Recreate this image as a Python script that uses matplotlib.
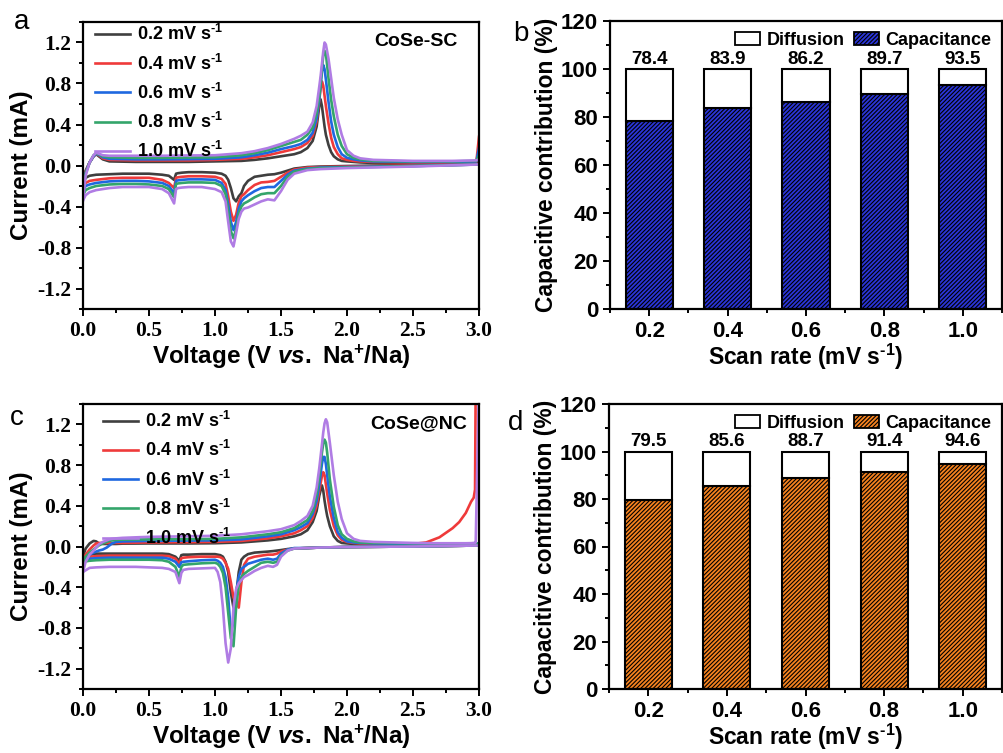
import matplotlib
matplotlib.use("Agg")
import matplotlib.pyplot as plt
from matplotlib.patches import Patch
from matplotlib.ticker import MultipleLocator, FormatStrFormatter

plt.rcParams["axes.unicode_minus"] = False
plt.rcParams["mathtext.fontset"] = "custom"
plt.rcParams["mathtext.rm"] = "Liberation Sans:bold"
plt.rcParams["mathtext.bf"] = "Liberation Sans:bold"
plt.rcParams["mathtext.it"] = "Liberation Sans:italic:bold"
plt.rcParams["hatch.linewidth"] = 0.8

# ---------------- data ----------------
scan_rates = [0.2, 0.4, 0.6, 0.8, 1.0]
rate_labels = ["0.2", "0.4", "0.6", "0.8", "1.0"]
cv_colors = ["#3f3f3f", "#ef3a3a", "#1f68e0", "#34a56b", "#b07ce4"]

# CoSe-SC, cathodic sweep (3.0 V -> 0 V)
sc_cath_v = [3.0, 2.5, 2.0, 1.8, 1.7, 1.6, 1.55, 1.5, 1.45, 1.4, 1.35, 1.3, 1.25, 1.22, 1.2,
             1.18, 1.16, 1.14, 1.12, 1.1, 1.08, 1.05, 1.0, 0.9, 0.8, 0.75, 0.72, 0.705,
             0.69, 0.65, 0.6, 0.5, 0.4, 0.3, 0.2, 0.1, 0.05, 0.02, 0.0]
sc_cath_02 = [0.015, 0.005, -0.005, -0.01, -0.015, -0.03, -0.05, -0.07, -0.085, -0.09, -0.1,
              -0.11, -0.15, -0.2, -0.27, -0.3, -0.35, -0.32, -0.22, -0.14, -0.1, -0.08, -0.07,
              -0.065, -0.065, -0.07, -0.075, -0.08, -0.14, -0.1, -0.09, -0.08, -0.08, -0.08,
              -0.085, -0.09, -0.1, -0.12, -0.16]
sc_cath_04 = [0.01, 0.0, -0.01, -0.015, -0.02, -0.04, -0.07, -0.11, -0.15, -0.16, -0.165,
              -0.19, -0.24, -0.28, -0.3, -0.36, -0.48, -0.54, -0.45, -0.3, -0.18, -0.13, -0.11,
              -0.105, -0.105, -0.11, -0.115, -0.12, -0.22, -0.17, -0.14, -0.12, -0.12, -0.12,
              -0.125, -0.14, -0.15, -0.17, -0.21]
sc_cath_06 = [0.01, -0.005, -0.015, -0.02, -0.03, -0.05, -0.09, -0.15, -0.21, -0.21, -0.22,
              -0.25, -0.29, -0.32, -0.35, -0.42, -0.55, -0.63, -0.55, -0.38, -0.24, -0.17, -0.14,
              -0.135, -0.135, -0.14, -0.145, -0.15, -0.27, -0.2, -0.17, -0.155, -0.15, -0.15,
              -0.155, -0.17, -0.185, -0.2, -0.25]
sc_cath_08 = [0.01, -0.005, -0.02, -0.025, -0.035, -0.06, -0.11, -0.2, -0.27, -0.27, -0.28,
              -0.31, -0.35, -0.37, -0.4, -0.47, -0.62, -0.71, -0.64, -0.45, -0.28, -0.2, -0.17,
              -0.165, -0.165, -0.17, -0.175, -0.18, -0.31, -0.23, -0.2, -0.185, -0.18, -0.18,
              -0.185, -0.2, -0.22, -0.24, -0.29]
sc_cath_10 = [0.01, -0.01, -0.025, -0.035, -0.045, -0.08, -0.14, -0.25, -0.34, -0.33, -0.35,
              -0.38, -0.41, -0.42, -0.45, -0.52, -0.66, -0.79, -0.74, -0.55, -0.35, -0.26, -0.23,
              -0.21, -0.21, -0.215, -0.22, -0.23, -0.37, -0.27, -0.23, -0.21, -0.21, -0.21,
              -0.22, -0.24, -0.26, -0.29, -0.34]

# CoSe-SC, anodic sweep (0 V -> 3.0 V)
sc_anod_v = [0.0, 0.02, 0.05, 0.08, 0.1, 0.12, 0.15, 0.2, 0.4, 0.6, 0.8, 1.0, 1.2, 1.3, 1.4,
             1.5, 1.6, 1.65, 1.7, 1.74, 1.77, 1.79, 1.8, 1.81, 1.82, 1.83, 1.84, 1.86, 1.88,
             1.9, 1.93, 1.96, 2.0, 2.05, 2.1, 2.2, 2.5, 2.8, 2.98, 3.0]
sc_anod_02 = [-0.16, -0.05, 0.03, 0.09, 0.11, 0.09, 0.06, 0.04, 0.035, 0.035, 0.035, 0.04,
              0.045, 0.055, 0.07, 0.09, 0.11, 0.13, 0.17, 0.24, 0.38, 0.58, 0.645, 0.58, 0.48,
              0.38, 0.3, 0.2, 0.13, 0.09, 0.06, 0.045, 0.04, 0.035, 0.03, 0.025, 0.02, 0.02,
              0.025, 0.06]
sc_anod_04 = [-0.21, -0.06, 0.03, 0.09, 0.115, 0.1, 0.07, 0.055, 0.05, 0.05, 0.05, 0.055,
              0.065, 0.08, 0.1, 0.13, 0.16, 0.18, 0.22, 0.29, 0.43, 0.64, 0.75, 0.82, 0.78,
              0.68, 0.58, 0.41, 0.27, 0.18, 0.11, 0.07, 0.055, 0.045, 0.04, 0.035, 0.03, 0.03,
              0.035, 0.28]
sc_anod_06 = [-0.25, -0.07, 0.03, 0.09, 0.115, 0.105, 0.08, 0.065, 0.06, 0.06, 0.062, 0.065,
              0.08, 0.1, 0.125, 0.16, 0.19, 0.21, 0.25, 0.32, 0.46, 0.65, 0.78, 0.92, 0.98,
              0.94, 0.84, 0.62, 0.43, 0.3, 0.18, 0.11, 0.075, 0.06, 0.05, 0.04, 0.035, 0.035,
              0.04, 0.17]
sc_anod_08 = [-0.29, -0.08, 0.03, 0.1, 0.12, 0.11, 0.09, 0.08, 0.075, 0.075, 0.078, 0.08,
              0.1, 0.12, 0.15, 0.19, 0.23, 0.25, 0.3, 0.37, 0.51, 0.68, 0.8, 0.94, 1.07,
              1.12, 1.09, 0.85, 0.64, 0.48, 0.3, 0.19, 0.11, 0.075, 0.06, 0.045, 0.04, 0.04,
              0.045, 0.1]
sc_anod_10 = [-0.34, -0.1, 0.03, 0.1, 0.125, 0.115, 0.1, 0.095, 0.095, 0.095, 0.098, 0.1,
              0.12, 0.14, 0.17, 0.21, 0.26, 0.29, 0.33, 0.42, 0.58, 0.77, 0.87, 0.99, 1.11,
              1.2, 1.18, 1.04, 0.85, 0.66, 0.45, 0.3, 0.15, 0.095, 0.07, 0.055, 0.045, 0.045,
              0.05, 0.06]

# CoSe@NC, cathodic sweep (3.0 V -> 0 V)
nc_cath_v = [3.0, 2.5, 2.0, 1.8, 1.7, 1.6, 1.55, 1.5, 1.47, 1.44, 1.4, 1.35, 1.3, 1.25, 1.22,
             1.2, 1.18, 1.16, 1.14, 1.12, 1.1, 1.08, 1.06, 1.04, 1.02, 1.0, 0.9, 0.8, 0.76,
             0.745, 0.73, 0.7, 0.65, 0.6, 0.5, 0.4, 0.3, 0.2, 0.1, 0.05, 0.0]
nc_cath_02 = [0.01, 0.0, -0.005, -0.01, -0.015, -0.02, -0.025, -0.035, -0.04, -0.045, -0.05,
              -0.055, -0.06, -0.075, -0.1, -0.13, -0.25, -0.48, -0.6, -0.45, -0.25, -0.15,
              -0.1, -0.085, -0.08, -0.075, -0.075, -0.08, -0.08, -0.085, -0.14, -0.1, -0.075,
              -0.07, -0.07, -0.07, -0.07, -0.07, -0.07, -0.08, -0.1]
nc_cath_04 = [0.01, 0.0, -0.005, -0.01, -0.015, -0.02, -0.03, -0.05, -0.07, -0.08, -0.08,
              -0.09, -0.1, -0.12, -0.18, -0.35, -0.6, -0.55, -0.5, -0.35, -0.22, -0.16, -0.12,
              -0.105, -0.1, -0.1, -0.1, -0.105, -0.11, -0.115, -0.17, -0.12, -0.095, -0.09,
              -0.09, -0.09, -0.09, -0.09, -0.095, -0.1, -0.12]
nc_cath_06 = [0.01, 0.0, -0.005, -0.01, -0.015, -0.015, -0.03, -0.07, -0.12, -0.13, -0.12,
              -0.13, -0.15, -0.17, -0.2, -0.22, -0.3, -0.45, -0.75, -0.84, -0.5, -0.3, -0.2,
              -0.16, -0.14, -0.13, -0.135, -0.145, -0.15, -0.155, -0.2, -0.15, -0.12, -0.11,
              -0.11, -0.11, -0.11, -0.11, -0.115, -0.12, -0.14]
nc_cath_08 = [0.01, 0.0, -0.005, -0.01, -0.015, -0.02, -0.04, -0.09, -0.15, -0.16, -0.15,
              -0.16, -0.2, -0.24, -0.27, -0.3, -0.38, -0.6, -0.98, -0.9, -0.65, -0.4, -0.26,
              -0.2, -0.17, -0.16, -0.165, -0.175, -0.18, -0.2, -0.3, -0.2, -0.15, -0.135,
              -0.13, -0.13, -0.13, -0.13, -0.135, -0.14, -0.15]
nc_cath_10 = [0.01, 0.0, -0.005, -0.01, -0.015, -0.02, -0.04, -0.1, -0.18, -0.2, -0.19,
              -0.21, -0.24, -0.28, -0.3, -0.33, -0.36, -0.42, -0.6, -1.0, -1.14, -0.95, -0.6,
              -0.35, -0.25, -0.21, -0.215, -0.22, -0.23, -0.26, -0.36, -0.25, -0.22, -0.21,
              -0.205, -0.2, -0.2, -0.2, -0.205, -0.21, -0.25]

# CoSe@NC, anodic sweep (0 V -> 3.0 V)
nc_anod_v = [0.0, 0.02, 0.05, 0.08, 0.1, 0.12, 0.15, 0.18, 0.2, 0.22, 0.25, 0.3, 0.5, 0.8,
             1.0, 1.2, 1.4, 1.5, 1.6, 1.65, 1.7, 1.74, 1.77, 1.79, 1.81, 1.82, 1.83, 1.84,
             1.85, 1.87, 1.9, 1.93, 1.96, 2.0, 2.05, 2.1, 2.2, 2.5, 2.6, 2.7, 2.8, 2.85, 2.9,
             2.94, 2.96, 2.97, 2.975, 3.0]
nc_anod_02 = [-0.1, -0.02, 0.03, 0.055, 0.05, 0.03, 0.025, 0.025, 0.025, 0.025, 0.025, 0.028,
              0.03, 0.03, 0.032, 0.04, 0.06, 0.075, 0.1, 0.12, 0.16, 0.24, 0.35, 0.5, 0.6,
              0.55, 0.45, 0.37, 0.3, 0.2, 0.1, 0.055, 0.035, 0.03, 0.025, 0.022, 0.02, 0.015,
              0.015, 0.015, 0.015, 0.015, 0.015, 0.015, 0.015, 0.015, 0.015, 0.02]
nc_anod_04 = [-0.12, -0.08, -0.03, 0.01, 0.03, 0.035, 0.035, 0.035, 0.035, 0.035, 0.035,
              0.035, 0.04, 0.042, 0.045, 0.055, 0.08, 0.1, 0.13, 0.16, 0.2, 0.28, 0.4, 0.55,
              0.69, 0.73, 0.7, 0.61, 0.52, 0.36, 0.2, 0.11, 0.065, 0.045, 0.035, 0.03, 0.025,
              0.025, 0.04, 0.09, 0.18, 0.24, 0.33, 0.44, 0.48, 0.56, 1.6, 1.6]
nc_anod_06 = [-0.14, -0.11, -0.08, -0.06, -0.05, -0.04, -0.03, -0.01, 0.01, 0.03, 0.045,
              0.05, 0.055, 0.058, 0.06, 0.07, 0.1, 0.12, 0.16, 0.19, 0.23, 0.32, 0.45, 0.61,
              0.81, 0.88, 0.88, 0.81, 0.7, 0.49, 0.28, 0.14, 0.085, 0.05, 0.04, 0.035, 0.03,
              0.025, 0.025, 0.025, 0.025, 0.025, 0.025, 0.025, 0.025, 0.025, 0.025, 0.03]
nc_anod_08 = [-0.15, -0.1, -0.06, -0.03, -0.01, 0.01, 0.03, 0.045, 0.055, 0.06, 0.065, 0.068,
              0.07, 0.072, 0.075, 0.09, 0.12, 0.14, 0.18, 0.22, 0.26, 0.35, 0.51, 0.69, 0.92,
              1.01, 1.05, 1.02, 0.92, 0.66, 0.39, 0.21, 0.12, 0.075, 0.05, 0.04, 0.035, 0.03,
              0.03, 0.03, 0.03, 0.03, 0.03, 0.03, 0.03, 0.03, 0.03, 0.03]
nc_anod_10 = [-0.25, -0.15, -0.08, -0.04, -0.01, 0.02, 0.045, 0.06, 0.07, 0.075, 0.08, 0.085,
              0.095, 0.1, 0.105, 0.12, 0.15, 0.17, 0.21, 0.25, 0.3, 0.4, 0.58, 0.77, 1.0,
              1.12, 1.21, 1.25, 1.22, 1.02, 0.7, 0.44, 0.27, 0.13, 0.075, 0.055, 0.045, 0.035,
              0.033, 0.032, 0.032, 0.032, 0.032, 0.033, 0.035, 0.035, 0.04, 1.6]

# capacitive share (%) at each scan rate
cap_sc = [78.4, 83.9, 86.2, 89.7, 93.5]
cap_nc = [79.5, 85.6, 88.7, 91.4, 94.6]

# ---------------- styling helpers ----------------
SANS = "Liberation Sans"
SERIF = "Liberation Serif"
SUP = r"$^{\text{-1}}$"


def style_box(ax):
    for s in ax.spines.values():
        s.set_linewidth(1.6)
    ax.tick_params(which="both", direction="out", top=False, right=False, width=1.4)
    ax.tick_params(which="major", length=5)
    ax.tick_params(which="minor", length=3)


def cv_panel(ax, cath_v, cath_sets, anod_v, anod_sets, name, name_x, leg_anchor):
    handles = []
    for lab, col, ic, ia in zip(rate_labels, cv_colors, cath_sets, anod_sets):
        ax.plot(cath_v, ic, color=col, lw=1.9, solid_joinstyle="round")
        h, = ax.plot(anod_v, ia, color=col, lw=1.9, solid_joinstyle="round",
                     label=lab + " mV s" + SUP)
        handles.append(h)
    ax.set_xlim(0, 3.0)
    ax.set_ylim(-1.4, 1.4)
    ax.xaxis.set_major_locator(MultipleLocator(0.5))
    ax.xaxis.set_minor_locator(MultipleLocator(0.25))
    ax.yaxis.set_major_locator(MultipleLocator(0.4))
    ax.yaxis.set_minor_locator(MultipleLocator(0.2))
    ax.xaxis.set_major_formatter(FormatStrFormatter("%.1f"))
    ax.yaxis.set_major_formatter(FormatStrFormatter("%.1f"))
    for t in ax.get_xticklabels() + ax.get_yticklabels():
        t.set_fontfamily(SERIF)
        t.set_fontweight("bold")
        t.set_fontsize(15.5)
    style_box(ax)
    ax.set_xlabel("Voltage (V " + r"$\mathit{vs.}$" + " Na$^{+}$/Na)",
                  fontfamily=SANS, fontweight="bold", fontsize=17.5, labelpad=1.5)
    ax.set_ylabel("Current (mA)", fontfamily=SANS, fontweight="bold", fontsize=17.5,
                  labelpad=3)
    ax.text(name_x, 0.932, name, transform=ax.transAxes, ha="right", va="center",
            fontfamily=SANS, fontweight="bold", fontsize=14)
    ax.legend(handles=handles, loc="upper left", bbox_to_anchor=leg_anchor,
              frameon=False, handlelength=1.95, handletextpad=0.4, labelspacing=0.5,
              borderaxespad=0, prop={"family": SANS, "weight": "bold", "size": 13})


def bar_panel(ax, caps, face):
    cap_h = caps
    dif_h = [100 - c for c in caps]
    ax.bar(scan_rates, cap_h, width=0.12, color=face, edgecolor="black", hatch="////////",
           linewidth=1.5, zorder=2)
    ax.bar(scan_rates, dif_h, bottom=cap_h, width=0.12, color="white", edgecolor="black",
           linewidth=1.5, zorder=2)
    for x, c in zip(scan_rates, caps):
        ax.text(x, 100.6, f"{c:.1f}", ha="center", va="bottom", fontfamily=SANS,
                fontweight="bold", fontsize=13.5)
    ax.set_xlim(0.1, 1.1)
    ax.set_ylim(0, 120)
    ax.set_xticks(scan_rates)
    ax.set_xticklabels(rate_labels)
    ax.xaxis.set_minor_locator(MultipleLocator(0.1))
    ax.yaxis.set_major_locator(MultipleLocator(20))
    ax.yaxis.set_minor_locator(MultipleLocator(10))
    for t in ax.get_xticklabels() + ax.get_yticklabels():
        t.set_fontfamily(SANS)
        t.set_fontweight("bold")
        t.set_fontsize(16)
    style_box(ax)
    ax.set_xlabel("Scan rate (mV s" + SUP + ")", fontfamily=SANS, fontweight="bold",
                  fontsize=16.5, labelpad=0)
    ax.set_ylabel("Capacitive contribution (%)", fontfamily=SANS, fontweight="bold",
                  fontsize=16.4, labelpad=2)
    leg_handles = [Patch(facecolor="white", edgecolor="black", linewidth=1.3),
                   Patch(facecolor=face, edgecolor="black", hatch="////////", linewidth=1.3)]
    ax.legend(leg_handles, ["Diffusion", "Capacitance"], loc="upper right",
              bbox_to_anchor=(1.0, 1.0), ncol=2, frameon=False, handlelength=1.4,
              handleheight=0.75, handletextpad=0.35, columnspacing=0.5, borderaxespad=0.2,
              prop={"family": SANS, "weight": "bold", "size": 13})


fig = plt.figure(figsize=(10.04, 7.53), dpi=100)
ax_a = fig.add_axes([83 / 1004, 444 / 753, 396 / 1004, 287 / 753])
ax_b = fig.add_axes([610 / 1004, 444 / 753, 392 / 1004, 288 / 753])
ax_c = fig.add_axes([83 / 1004, 64 / 753, 396 / 1004, 285 / 753])
ax_d = fig.add_axes([609 / 1004, 64 / 753, 393 / 1004, 285 / 753])

cv_panel(ax_a, sc_cath_v, [sc_cath_02, sc_cath_04, sc_cath_06, sc_cath_08, sc_cath_10],
         sc_anod_v, [sc_anod_02, sc_anod_04, sc_anod_06, sc_anod_08, sc_anod_10],
         "CoSe-SC", 0.947, (0.012, 1.017))
cv_panel(ax_c, nc_cath_v, [nc_cath_02, nc_cath_04, nc_cath_06, nc_cath_08, nc_cath_10],
         nc_anod_v, [nc_anod_02, nc_anod_04, nc_anod_06, nc_anod_08, nc_anod_10],
         "CoSe@NC", 0.97, (0.032, 1.0))
bar_panel(ax_b, cap_sc, "#2a35d8")
bar_panel(ax_d, cap_nc, "#f5821f")

for lab, x, y in [("a", 22, 22), ("b", 521, 34), ("c", 17, 418), ("d", 516, 423)]:
    fig.text(x / 1004, 1 - y / 753, lab, ha="center", va="center", fontfamily=SANS,
             fontsize=20)

fig.savefig("out.png", dpi=100)
